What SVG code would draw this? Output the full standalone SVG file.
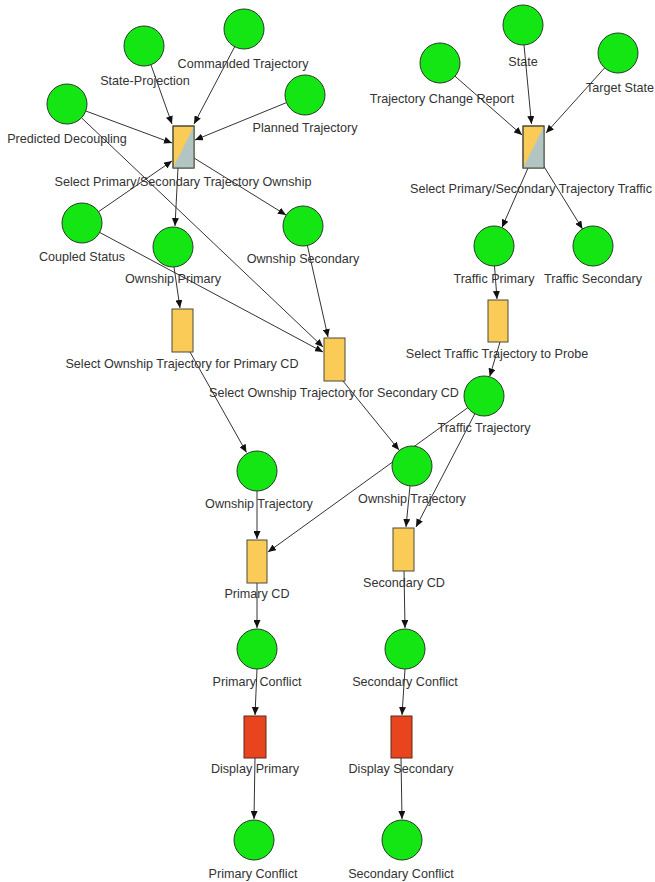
<svg xmlns="http://www.w3.org/2000/svg" width="655" height="882" viewBox="0 0 655 882">
<defs>
<style>
.p{fill:#14E614;stroke:#2a3a2a;stroke-width:1}
.t{fill:#FBCB58;stroke:#4a4a3a;stroke-width:1}
.r{fill:#E8451F;stroke:#5a2a1a;stroke-width:1}
.g{fill:#B3C5C2}
.e{stroke:#333;stroke-width:1;fill:none;marker-end:url(#a)}
text{font-family:"Liberation Sans",Arial,sans-serif;font-size:12.6px;fill:#333;text-anchor:middle}
</style>
<marker id="a" markerWidth="8" markerHeight="7" refX="8" refY="3.5" orient="auto" markerUnits="userSpaceOnUse">
<path d="M0,0 L8,3.5 L0,7 z" fill="#111"/>
</marker>
</defs>
<rect width="655" height="882" fill="#fff"/>
<g id="connectors">
<line class="e" x1="151" y1="65" x2="172" y2="124"/>
<line class="e" x1="234.7" y1="46.7" x2="194" y2="124"/>
<line class="e" x1="286.5" y1="102.6" x2="195" y2="140"/>
<line class="e" x1="85.8" y1="111" x2="172" y2="143"/>
<line class="e" x1="98.5" y1="211.7" x2="172" y2="161"/>
<line class="e" x1="81.5" y1="117.8" x2="323" y2="347"/>
<line class="e" x1="178" y1="168" x2="175" y2="226"/>
<line class="e" x1="194" y1="158" x2="286" y2="215"/>
<line class="e" x1="174" y1="267" x2="180" y2="308"/>
<line class="e" x1="99.6" y1="232.4" x2="323" y2="352"/>
<line class="e" x1="307.4" y1="245.5" x2="328" y2="337"/>
<line class="e" x1="190" y1="352" x2="246.5" y2="452.5"/>
<line class="e" x1="343" y1="381" x2="399" y2="450"/>
<line class="e" x1="455" y1="76.2" x2="522" y2="135"/>
<line class="e" x1="524" y1="45" x2="531.5" y2="124"/>
<line class="e" x1="604.6" y1="67.9" x2="546" y2="133"/>
<line class="e" x1="528" y1="168" x2="502" y2="227.5"/>
<line class="e" x1="543" y1="165" x2="582.5" y2="229"/>
<line class="e" x1="494.5" y1="266" x2="497" y2="299"/>
<line class="e" x1="500" y1="342" x2="489.7" y2="376.5"/>
<line class="e" x1="467.8" y1="407.7" x2="268" y2="552"/>
<line class="e" x1="474.8" y1="413.8" x2="416" y2="527"/>
<line class="e" x1="257" y1="491" x2="257" y2="539"/>
<line class="e" x1="410" y1="486" x2="406" y2="527"/>
<line class="e" x1="257" y1="583" x2="257" y2="628"/>
<line class="e" x1="404" y1="571" x2="405" y2="628"/>
<line class="e" x1="257" y1="669" x2="255" y2="715"/>
<line class="e" x1="405" y1="669" x2="402" y2="715"/>
<line class="e" x1="255" y1="758" x2="254" y2="819"/>
<line class="e" x1="401" y1="758" x2="402" y2="819"/>
</g>
<g id="state-projection"><circle class="p" cx="144" cy="46" r="20"/><text x="145" y="84.5">State-Projection</text></g>
<g id="commanded-trajectory"><circle class="p" cx="244" cy="29" r="20"/><text x="243" y="67.5">Commanded Trajectory</text></g>
<g id="planned-trajectory"><circle class="p" cx="305" cy="95" r="20"/><text x="305" y="131.5">Planned Trajectory</text></g>
<g id="predicted-decoupling"><circle class="p" cx="67" cy="104" r="20"/><text x="67" y="142.5">Predicted Decoupling</text></g>
<g id="coupled-status"><circle class="p" cx="82" cy="223" r="20"/><text x="82" y="260.5">Coupled Status</text></g>
<g id="ownship-primary"><circle class="p" cx="173" cy="247" r="20"/><text x="173" y="282.5">Ownship Primary</text></g>
<g id="ownship-secondary"><circle class="p" cx="303" cy="226" r="20"/><text x="303" y="262.5">Ownship Secondary</text></g>
<g id="trajectory-change-report"><circle class="p" cx="440" cy="63" r="20"/><text x="442" y="102.5">Trajectory Change Report</text></g>
<g id="state"><circle class="p" cx="523" cy="25" r="20"/><text x="523" y="65.5">State</text></g>
<g id="target-state"><circle class="p" cx="618" cy="53" r="20"/><text x="620" y="91.5">Target State</text></g>
<g id="traffic-primary"><circle class="p" cx="494" cy="246" r="20"/><text x="494" y="282.5">Traffic Primary</text></g>
<g id="traffic-secondary"><circle class="p" cx="593" cy="246" r="20"/><text x="593" y="282.5">Traffic Secondary</text></g>
<g id="traffic-trajectory"><circle class="p" cx="484" cy="396" r="20"/><text x="484" y="431.5">Traffic Trajectory</text></g>
<g id="ownship-trajectory-1"><circle class="p" cx="257" cy="471" r="20"/><text x="259" y="507.5">Ownship Trajectory</text></g>
<g id="ownship-trajectory-2"><circle class="p" cx="412" cy="466" r="20"/><text x="412" y="502.5">Ownship Trajectory</text></g>
<g id="primary-conflict-1"><circle class="p" cx="257" cy="649" r="20"/><text x="257" y="685.5">Primary Conflict</text></g>
<g id="secondary-conflict-1"><circle class="p" cx="405" cy="649" r="20"/><text x="405" y="685.5">Secondary Conflict</text></g>
<g id="primary-conflict-2"><circle class="p" cx="254" cy="840" r="20"/><text x="253" y="877.5">Primary Conflict</text></g>
<g id="secondary-conflict-2"><circle class="p" cx="402" cy="840" r="20"/><text x="401" y="877.5">Secondary Conflict</text></g>
<g id="select-ps-ownship"><rect class="t" x="173" y="126" width="21" height="42"/><path class="g" d="M194,126 L194,168 L173,168 z"/><rect x="173" y="126" width="21" height="42" fill="none" stroke="#4a4a3a"/><text x="183" y="185.5">Select Primary/Secondary Trajectory Ownship</text></g>
<g id="select-ps-traffic"><rect class="t" x="523" y="126" width="21" height="42"/><path class="g" d="M544,126 L544,168 L523,168 z"/><rect x="523" y="126" width="21" height="42" fill="none" stroke="#4a4a3a"/><text x="410" y="192.5" style="text-anchor:start">Select Primary/Secondary Trajectory Traffic</text></g>
<g id="select-ownship-primary-cd"><rect class="t" x="172" y="309" width="21" height="43"/><text x="182" y="367.5">Select Ownship Trajectory for Primary CD</text></g>
<g id="select-ownship-secondary-cd"><rect class="t" x="324" y="338" width="21" height="43"/><text x="334" y="396.5">Select Ownship Trajectory for Secondary CD</text></g>
<g id="select-traffic-probe"><rect class="t" x="488" y="300" width="20" height="42"/><text x="497" y="357.5">Select Traffic Trajectory to Probe</text></g>
<g id="primary-cd"><rect class="t" x="247" y="540" width="20" height="43"/><text x="257" y="597.5">Primary CD</text></g>
<g id="secondary-cd"><rect class="t" x="393" y="528" width="21" height="43"/><text x="404" y="586.5">Secondary CD</text></g>
<g id="display-primary"><rect class="r" x="244" y="716" width="22" height="42"/><text x="255" y="772.5">Display Primary</text></g>
<g id="display-secondary"><rect class="r" x="391" y="716" width="21" height="42"/><text x="401" y="772.5">Display Secondary</text></g>
</svg>
